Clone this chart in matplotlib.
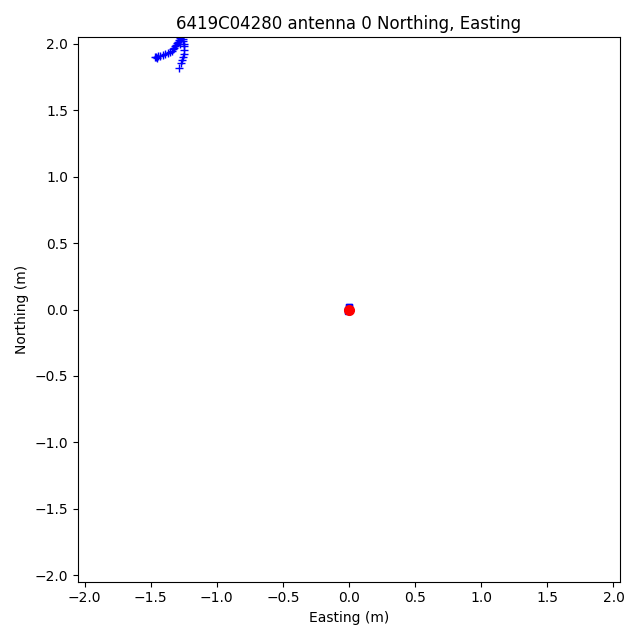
import numpy as np
import matplotlib
matplotlib.use("Agg")
import matplotlib.pyplot as plt

# trace des positions (m)
easting = [-1.465, -1.459, -1.45, -1.445, -1.429, -1.41, -1.391, -1.372, -1.354, -1.34, -1.331, -1.322,
           -1.316, -1.308, -1.301, -1.293, -1.285, -1.28, -1.275,
           -1.255, -1.252, -1.250, -1.248, -1.248, -1.249, -1.255, -1.262, -1.270, -1.285]
northing = [1.900, 1.902, 1.898, 1.908, 1.910, 1.918, 1.925, 1.932, 1.940, 1.950, 1.962, 1.973,
            1.985, 1.996, 2.008, 2.018, 2.030, 2.045, 2.000,
            2.040, 2.020, 2.000, 1.985, 1.955, 1.925, 1.900, 1.880, 1.857, 1.822]

# position de référence
ref_e = [-0.004, 0.003, -0.006, 0.0]
ref_n = [0.0, 0.016, -0.010, 0.020]
center_e = [0.0]
center_n = [0.0]

fig, ax = plt.subplots(figsize=(6.4, 6.4), dpi=100)
ax.plot(easting, northing, "b+", linestyle="none")
ax.plot(ref_e, ref_n, "bs", markersize=4, linestyle="none")
ax.plot(center_e, center_n, "ro", markersize=7, linestyle="none")
ax.set_xlim(-2.05, 2.05)
ax.set_ylim(-2.05, 2.05)
ax.set_xticks(np.arange(-2.0, 2.01, 0.5))
ax.set_yticks(np.arange(-2.0, 2.01, 0.5))
ax.set_xlabel("Easting (m)")
ax.set_ylabel("Northing (m)")
ax.set_title("6419C04280 antenna 0 Northing, Easting")
fig.tight_layout()
fig.savefig("out.png")
